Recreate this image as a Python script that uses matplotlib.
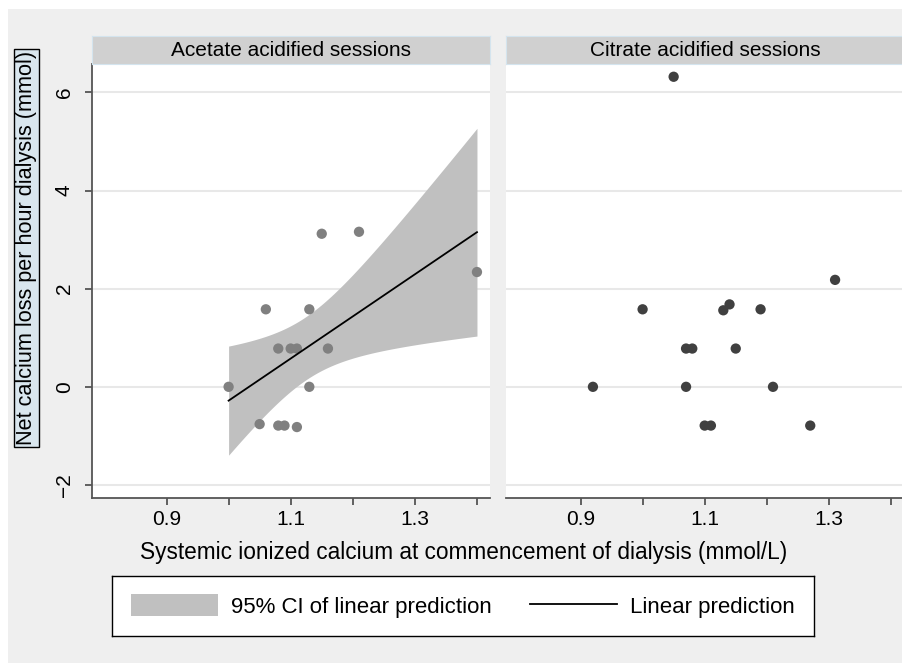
import numpy as np
import matplotlib.pyplot as plt
from matplotlib.patches import Rectangle, Patch
from matplotlib.lines import Line2D

plt.rcParams['font.family'] = ['Liberation Sans', 'DejaVu Sans']

# Acetate acidified sessions
acetate_ca = [1.00, 1.06, 1.13, 1.15, 1.21, 1.40, 1.08, 1.10, 1.11, 1.16,
              1.13, 1.05, 1.08, 1.09, 1.11]
acetate_loss = [0.00, 1.58, 1.58, 3.12, 3.16, 2.34, 0.78, 0.78, 0.78, 0.78,
                0.00, -0.76, -0.79, -0.79, -0.82]

# Citrate acidified sessions
citrate_ca = [1.05, 1.31, 1.00, 1.13, 1.14, 1.19, 1.07, 1.08, 1.15, 0.92,
              1.07, 1.21, 1.10, 1.11, 1.27]
citrate_loss = [6.32, 2.18, 1.58, 1.56, 1.68, 1.58, 0.78, 0.78, 0.78, 0.00,
                0.00, 0.00, -0.79, -0.79, -0.79]

panel_titles = ['Acetate acidified sessions', 'Citrate acidified sessions']
x_ticks = [0.9, 1.0, 1.1, 1.2, 1.3, 1.4]
x_ticklabels = ['0.9', '', '1.1', '', '1.3', '']
y_ticks = [-2, 0, 2, 4, 6]
y_ticklabels = ['\u22122', '0', '2', '4', '6']

W, H = 903, 663
fig = plt.figure(figsize=(W / 100, H / 100), dpi=100, facecolor='white')
fig.patches.append(Rectangle((8 / W, 0), 1, 1 - 9 / H, transform=fig.transFigure,
                             facecolor='#efefef', edgecolor='none', zorder=-10))

# linear fit with 95% CI (t for 13 df)
x = np.array(acetate_ca)
y = np.array(acetate_loss)
n = len(x)
slope, intercept = np.polyfit(x, y, 1)
resid = y - (intercept + slope * x)
s = np.sqrt(np.sum(resid ** 2) / (n - 2))
xg = np.linspace(x.min(), x.max(), 100)
yg = intercept + slope * xg
se = s * np.sqrt(1 / n + (xg - x.mean()) ** 2 / np.sum((x - x.mean()) ** 2))
t13 = 2.160

pw = 398 / W
bottom = 1 - 497.7 / H
top = 1 - 64 / H
ax1 = fig.add_axes([92 / W, bottom, pw, top - bottom])
ax2 = fig.add_axes([506 / W, bottom, pw, top - bottom])

for ax, title in zip([ax1, ax2], panel_titles):
    ax.set_xlim(0.78, 1.421)
    ax.set_ylim(-2.26, 6.58)
    ax.set_facecolor('white')
    for yv in y_ticks:
        ax.axhline(yv, color='#e8e8e8', lw=1.5, zorder=0)
    for sp in ['top', 'right']:
        ax.spines[sp].set_visible(False)
    ax.spines['bottom'].set_color('#555555')
    ax.spines['bottom'].set_linewidth(1.3)
    ax.set_xticks(x_ticks)
    ax.set_xticklabels(x_ticklabels)
    ax.tick_params(axis='x', length=5, width=1.3, color='#555555', labelsize=15, pad=4)
    # strip header
    strip = ax.inset_axes([0, 1, 1, 28 / 433.7])
    strip.set_facecolor('#d0d0d0')
    strip.set_xticks([])
    strip.set_yticks([])
    for sp in strip.spines.values():
        sp.set_color('#d4e4ee')
    strip.text(0.5, 0.5, title, ha='center', va='center', fontsize=15,
               transform=strip.transAxes)

ax1.spines['left'].set_color('#555555')
ax1.spines['left'].set_linewidth(1.3)
ax1.set_yticks(y_ticks)
ax1.set_yticklabels(y_ticklabels, rotation=90, va='center')
ax1.tick_params(axis='y', length=5, width=1.3, color='#555555', labelsize=15, pad=8)
ax2.spines['left'].set_visible(False)
ax2.set_yticks([])

ax1.fill_between(xg, yg - t13 * se, yg + t13 * se, color='#c0c0c0', lw=0, zorder=1)
ax1.scatter(acetate_ca, acetate_loss, s=55, color='#808080', edgecolors='none', zorder=2)
ax1.plot(xg, yg, color='black', lw=1.3, zorder=3)

ax2.scatter(citrate_ca, citrate_loss, s=55, color='#404040', edgecolors='none', zorder=2)

fig.text(464 / W, 1 - 552 / H,
         'Systemic ionized calcium at commencement of dialysis (mmol/L)',
         ha='center', va='center', fontsize=16.3)
fig.text(26.5 / W, 1 - 248 / H, 'Net calcium loss per hour dialysis (mmol)',
         ha='center', va='center', rotation=90, fontsize=15.6,
         bbox=dict(boxstyle='square,pad=0.1', facecolor='#d9e6ee',
                   edgecolor='black', lw=1))

# legend box
lax = fig.add_axes([112 / W, 1 - 636 / H, 702 / W, 60 / H])
lax.set_xticks([])
lax.set_yticks([])
for sp in lax.spines.values():
    sp.set_color('black')
    sp.set_linewidth(1)
handles = [Patch(facecolor='#c0c0c0', edgecolor='none'),
           Line2D([0], [0], color='black', lw=1.3)]
lax.legend(handles, ['95% CI of linear prediction', 'Linear prediction'],
           loc='center', ncol=2, frameon=False, fontsize=16,
           handlelength=3.9, handleheight=1.1, handletextpad=0.62,
           columnspacing=1.7)

fig.savefig('out.png', dpi=100, facecolor='white')
